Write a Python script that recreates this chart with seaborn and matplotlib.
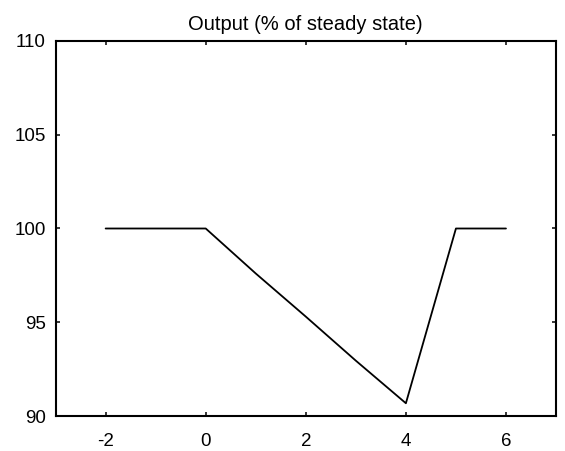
import pandas as pd
import seaborn as sns
import matplotlib
matplotlib.use("Agg")
import matplotlib.pyplot as plt

# Path of output relative to steady state
periods = [-2, -1, 0, 1, 2, 3, 4, 5, 6]
output = [100, 100, 100, 97.6, 95.3, 92.95, 90.68, 100, 100]

x_ticks = [-2, 0, 2, 4, 6]
y_ticks = [90, 95, 100, 105, 110]

df = pd.DataFrame({"period": periods, "output": output})

sns.set_style("ticks")
plt.rcParams['font.family'] = ['Liberation Sans', 'DejaVu Sans']
plt.rcParams['axes.unicode_minus'] = False
plt.rcParams['text.color'] = 'black'

fig = plt.figure(figsize=(5.65, 4.51), dpi=100)
ax = fig.add_axes([0.0984, 0.0776, 0.8857, 0.8315])

sns.lineplot(data=df, x="period", y="output", color="black", linewidth=1.3, ax=ax)

ax.set_xlim(-3, 7)
ax.set_ylim(90, 110)
ax.set_xticks(x_ticks)
ax.set_yticks(y_ticks)
ax.set_xlabel("")
ax.set_ylabel("")
ax.set_title("Output (% of steady state)", fontsize=14.5, pad=8, color="black")

# boxed axes, inward ticks on all sides
for spine in ax.spines.values():
    spine.set_visible(True)
    spine.set_linewidth(1.5)
    spine.set_color("black")
ax.tick_params(direction="in", length=3, width=1.1, top=True, right=True,
               labelsize=13.5, colors="black")
ax.tick_params(axis="x", pad=12)
ax.tick_params(axis="y", pad=7)

plt.savefig("out.png", dpi=100)
